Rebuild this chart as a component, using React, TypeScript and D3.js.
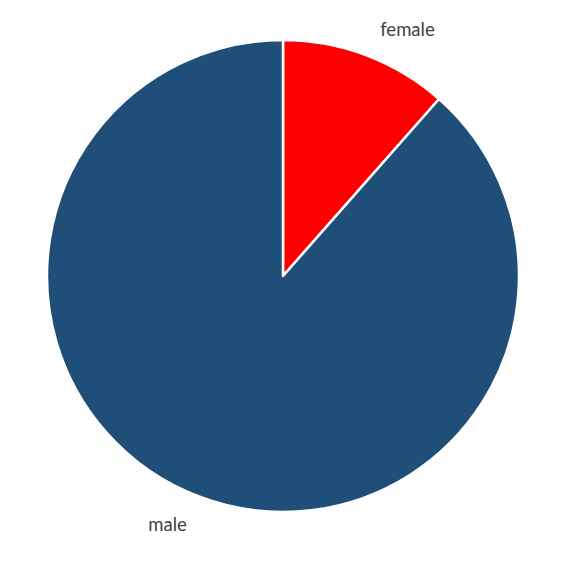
import * as d3 from 'd3'

const categories = ['female', 'male']
const shares = [11.5, 88.5]
const colors = ['#ff0000', '#1f4e79']

type Slice = { name: string; value: number }

const App = () => {
  const width = 587
  const height = 575
  const cx = 283
  const cy = 276
  const radius = 236

  const data: Slice[] = categories.map((name, i) => ({ name, value: shares[i] }))

  const pie = d3
    .pie<Slice>()
    .sort(null)
    .value((d) => d.value)

  const arc = d3.arc<d3.PieArcDatum<Slice>>().innerRadius(0).outerRadius(radius)

  const arcs = pie(data)

  return (
    <svg width={width} height={height} style={{ position: 'absolute', left: 0, top: 0, background: '#fff' }}>
      <g transform={`translate(${cx},${cy})`}>
        {arcs.map((a, i) => (
          <path key={a.data.name} d={arc(a) || ''} fill={colors[i]} stroke="#fff" strokeWidth={2.5} strokeLinejoin="round" />
        ))}
        {arcs.map((a) => {
          // label sits just outside the slice, Excel style
          const mid = (a.startAngle + a.endAngle) / 2
          const lr = radius + 22
          const x = lr * Math.sin(mid)
          const y = -lr * Math.cos(mid)
          const right = Math.sin(mid) >= 0
          return (
            <text
              key={a.data.name + '-label'}
              x={x + (right ? 6 : -5)}
              y={y + (Math.cos(mid) > 0 ? 1 : 14)}
              textAnchor={right ? 'start' : 'end'}
              fontFamily="Lato, 'Open Sans', sans-serif"
              fontSize={18.5}
              fill="#404040"
            >
              {a.data.name}
            </text>
          )
        })}
      </g>
    </svg>
  )
}

export default App
